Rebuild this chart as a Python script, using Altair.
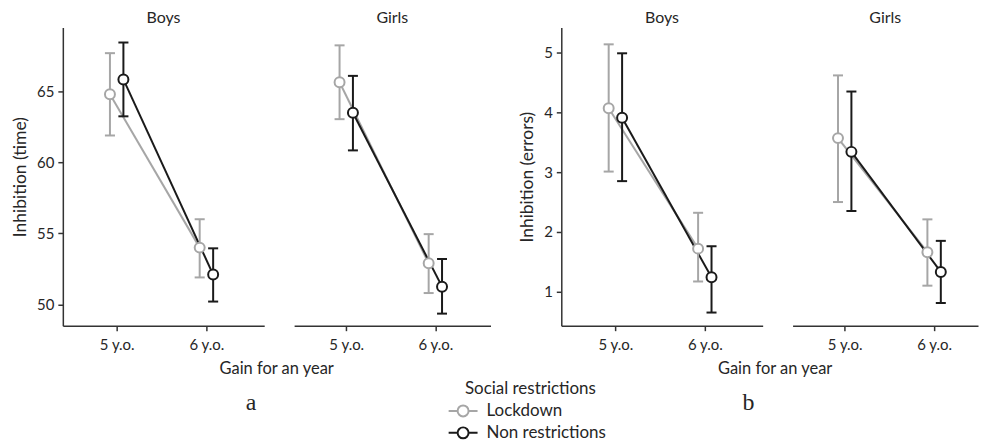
import altair as alt
import pandas as pd

# ---------------- data ----------------
AGES = ["5 y.o.", "6 y.o."]
SEXES = ["Boys", "Girls"]
GROUPS = ["Lockdown", "Non restrictions"]
COLORS = ["#a6a6a6", "#1a1a1a"]

# Inhibition (time): [5 y.o., 6 y.o.]
time_boys_lock_mean = [64.8, 54.0]
time_boys_lock_lo = [61.9, 51.9]
time_boys_lock_hi = [67.7, 56.0]
time_boys_non_mean = [65.85, 52.1]
time_boys_non_lo = [63.25, 50.2]
time_boys_non_hi = [68.45, 53.95]
time_girls_lock_mean = [65.65, 52.9]
time_girls_lock_lo = [63.05, 50.8]
time_girls_lock_hi = [68.25, 54.95]
time_girls_non_mean = [63.5, 51.25]
time_girls_non_lo = [60.85, 49.35]
time_girls_non_hi = [66.1, 53.2]

# Inhibition (errors): [5 y.o., 6 y.o.]
err_boys_lock_mean = [4.07, 1.72]
err_boys_lock_lo = [3.01, 1.17]
err_boys_lock_hi = [5.14, 2.32]
err_boys_non_mean = [3.91, 1.24]
err_boys_non_lo = [2.85, 0.65]
err_boys_non_hi = [4.99, 1.76]
err_girls_lock_mean = [3.57, 1.66]
err_girls_lock_lo = [2.50, 1.10]
err_girls_lock_hi = [4.62, 2.21]
err_girls_non_mean = [3.34, 1.33]
err_girls_non_lo = [2.35, 0.81]
err_girls_non_hi = [4.35, 1.85]

TIME_TICKS = [50, 55, 60, 65]
ERR_TICKS = [1, 2, 3, 4, 5]
X_TITLE = "Gain for an year"


def build(series):
    rows = []
    for sex, group, mean, lo, hi in series:
        for i, age in enumerate(AGES):
            rows.append({"sex": sex, "group": group, "age": i + 1,
                         "mean": mean[i], "lo": lo[i], "hi": hi[i]})
    return pd.DataFrame(rows)


time_df = build([
    ("Boys", GROUPS[0], time_boys_lock_mean, time_boys_lock_lo, time_boys_lock_hi),
    ("Boys", GROUPS[1], time_boys_non_mean, time_boys_non_lo, time_boys_non_hi),
    ("Girls", GROUPS[0], time_girls_lock_mean, time_girls_lock_lo, time_girls_lock_hi),
    ("Girls", GROUPS[1], time_girls_non_mean, time_girls_non_lo, time_girls_non_hi),
])
err_df = build([
    ("Boys", GROUPS[0], err_boys_lock_mean, err_boys_lock_lo, err_boys_lock_hi),
    ("Boys", GROUPS[1], err_boys_non_mean, err_boys_non_lo, err_boys_non_hi),
    ("Girls", GROUPS[0], err_girls_lock_mean, err_girls_lock_lo, err_girls_lock_hi),
    ("Girls", GROUPS[1], err_girls_non_mean, err_girls_non_lo, err_girls_non_hi),
])

# ---------------- styling ----------------
FONT = "Lato"
TXT = "#262626"
OFF = 0.075      # horizontal dodge between the two groups (x units)
CAP = 0.056      # half width of the error-bar caps (x units)
PLOT_H = 299
LABEL_EXPR = " : ".join(
    [f"datum.value == {i + 1} ? '{a}'" for i, a in enumerate(AGES[:-1])] + [f"'{AGES[-1]}'"]
)
LEGEND_SYMBOL = ("M-2.9,0L-1.1,0M1.1,0L2.9,0M1.1,0A1.1,1.1,0,1,1,-1.1,0"
                 "A1.1,1.1,0,1,1,1.1,0Z")

COLOR = alt.Color(
    "group:N",
    scale=alt.Scale(domain=GROUPS, range=COLORS),
    legend=alt.Legend(
        title="Social restrictions", orient="none", legendX=393, legendY=355,
        titleAnchor="middle", titleFont=FONT, titleFontSize=17,
        titleFontWeight="normal", titleColor=TXT, titlePadding=4,
        labelFont=FONT, labelFontSize=17, labelColor=TXT, labelOffset=15,
        symbolType=LEGEND_SYMBOL, symbolSize=100, symbolStrokeWidth=2,
        symbolFillColor="white", symbolOpacity=1, rowPadding=3,
    ),
)


def panel(df, sex, ydomain, yticks, ytitle, width, xdomain, show_y):
    if show_y:
        xaxis = alt.Axis(values=[1, 2], labelExpr=LABEL_EXPR, title=X_TITLE,
                         titleX=214, titlePadding=8, grid=False)
        yaxis = alt.Axis(values=yticks, title=ytitle, grid=False, format="d")
    else:
        xaxis = alt.Axis(values=[1, 2], labelExpr=LABEL_EXPR, title=None, grid=False)
        yaxis = None
    xs = alt.Scale(domain=xdomain, nice=False, zero=False)
    ys = alt.Scale(domain=ydomain, nice=False, zero=False)
    x = alt.X("xpos:Q", scale=xs, axis=xaxis)
    x_cl = alt.X("cap_l:Q", scale=xs, axis=xaxis)
    y = alt.Y("mean:Q", scale=ys, axis=yaxis)
    y_lo = alt.Y("lo:Q", scale=ys, axis=yaxis)
    y_hi = alt.Y("hi:Q", scale=ys, axis=yaxis)
    lines = alt.Chart().mark_line(strokeWidth=2).encode(x=x, y=y, color=COLOR)
    bars = alt.Chart().mark_rule(strokeWidth=2).encode(
        x=x, y=y_lo, y2="hi:Q", color=COLOR)
    caps_lo = alt.Chart().mark_rule(strokeWidth=2).encode(
        x=x_cl, x2="cap_r:Q", y=y_lo, color=COLOR)
    caps_hi = alt.Chart().mark_rule(strokeWidth=2).encode(
        x=x_cl, x2="cap_r:Q", y=y_hi, color=COLOR)
    points = alt.Chart().mark_point(shape="circle", filled=False, fill="white",
                                    size=100, strokeWidth=2, opacity=1).encode(
        x=x, y=y, color=COLOR)
    return alt.layer(lines, bars, caps_lo, caps_hi, points, data=df).transform_filter(
        f"datum.sex == '{sex}'"
    ).transform_calculate(
        xpos=f"datum.age + (datum.group == '{GROUPS[0]}' ? -{OFF} : {OFF})"
    ).transform_calculate(
        cap_l=f"datum.xpos - {CAP}", cap_r=f"datum.xpos + {CAP}"
    ).properties(
        width=width, height=PLOT_H,
        title=alt.TitleParams(sex, font=FONT, fontSize=16, fontWeight="normal",
                              color=TXT, anchor="middle", offset=2),
    )


def make_fig(df, ytitle, ydomain, yticks, letter, widths, xdomains):
    boys = panel(df, SEXES[0], ydomain, yticks, ytitle, widths[0], xdomains[0], True)
    girls = panel(df, SEXES[1], ydomain, yticks, ytitle, widths[1], xdomains[1], False)
    return alt.hconcat(boys, girls, spacing=30, bounds="flush").properties(
        title=alt.TitleParams(letter, orient="bottom", anchor="middle",
                              frame="bounds", font="Liberation Serif", fontSize=24,
                              fontWeight="normal", color=TXT, offset=14)
    )


fig_a = make_fig(time_df, "Inhibition (time)", [48.5, 69.5], TIME_TICKS, "a",
                 widths=[202, 197], xdomains=[[0.4, 2.644], [0.415, 2.619]])
fig_b = make_fig(err_df, "Inhibition (errors)", [0.43, 5.42], ERR_TICKS, "b",
                 widths=[202, 186], xdomains=[[0.395, 2.647], [0.417, 2.491]])

chart = alt.hconcat(fig_a, fig_b, spacing=26).properties(
    padding={"left": 3, "top": 0, "right": 0, "bottom": 0}
).configure_view(
    stroke="transparent"
).configure_axis(
    domainColor="#333333", domainWidth=1.5, tickColor="#333333", tickWidth=1.5,
    tickSize=5, labelFont=FONT, labelFontSize=15, labelColor=TXT, labelPadding=7,
    titleFont=FONT, titleFontSize=16.5, titleFontWeight="normal", titleColor=TXT,
).configure_axisY(
    titleFontSize=17.5, titlePadding=7, labelPadding=4,
)

chart.save("out.html", embed_options={"renderer": "svg", "actions": False})
